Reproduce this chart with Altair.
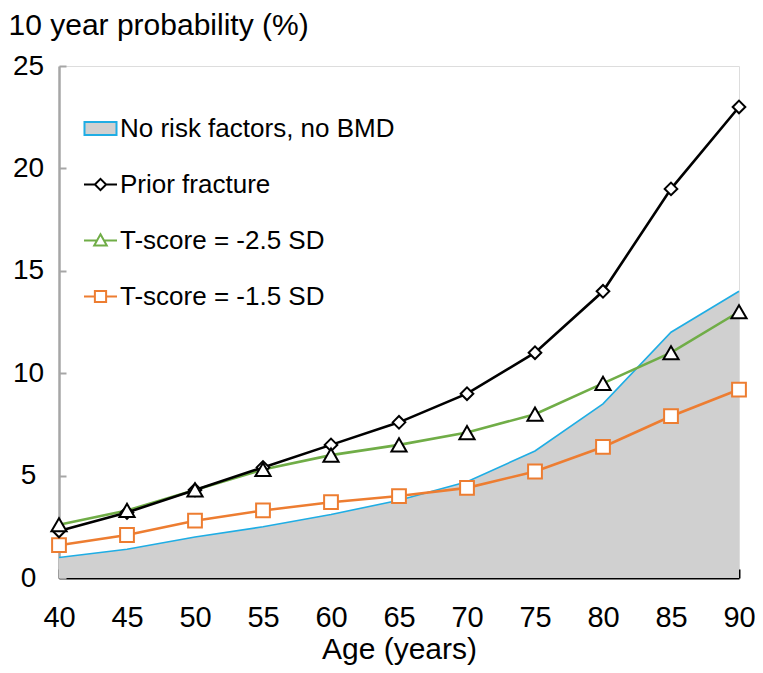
import altair as alt
import pandas as pd

# ---- data ----
ages = [40, 45, 50, 55, 60, 65, 70, 75, 80, 85, 90]
no_risk = [1.0, 1.4, 2.0, 2.5, 3.1, 3.8, 4.7, 6.2, 8.5, 12.0, 14.0]
prior_fracture = [2.3, 3.2, 4.3, 5.4, 6.5, 7.6, 9.0, 11.0, 14.0, 19.0, 23.0]
t_score_25 = [2.6, 3.3, 4.3, 5.3, 6.0, 6.5, 7.1, 8.0, 9.5, 11.0, 13.0]
t_score_15 = [1.6, 2.1, 2.8, 3.3, 3.7, 4.0, 4.4, 5.2, 6.4, 7.9, 9.2]

series_names = ["No risk factors, no BMD", "Prior fracture",
                "T-score = -2.5 SD", "T-score = -1.5 SD"]
x_ticks = [40, 45, 50, 55, 60, 65, 70, 75, 80, 85, 90]
y_ticks = [0, 5, 10, 15, 20, 25]

# ---- styles ----
FONT = "Liberation Sans"
C_FILL = "#d0d0d0"
C_BLUE = "#1fade4"
C_BLACK = "#000000"
C_GREEN = "#70ad47"
C_ORANGE = "#ed7d31"
C_AXIS_GRAY = "#a6a6a6"

rows = []
for name, vals in zip(series_names, [no_risk, prior_fracture, t_score_25, t_score_15]):
    for a, v in zip(ages, vals):
        rows.append({"age": a, "value": v, "series": name})
df = pd.DataFrame(rows)

x_enc = alt.X(
    "age:Q",
    scale=alt.Scale(domain=[40, 90], nice=False, zero=False),
    axis=alt.Axis(
        values=x_ticks, grid=False, title="Age (years)",
        labelFont=FONT, labelFontSize=29, labelColor="black", labelPadding=34,
        labelFlush=False,
        tickSize={"expr": "-9"}, tickColor="black", tickWidth=2,
        domainColor="black", domainWidth=2,
        titleFont=FONT, titleFontSize=30, titleFontWeight="normal", titleColor="black",
        titleY=80, titleBaseline="alphabetic",
    ),
)
y_enc = alt.Y(
    "value:Q",
    scale=alt.Scale(domain=[0, 25], nice=False),
    axis=alt.Axis(
        values=y_ticks, grid=False, title="10 year probability (%)",
        labelFont=FONT, labelFontSize=28, labelColor="black", labelAlign="center",
        labelBaseline="middle", labelPadding=38, labelFlush=False,
        tickSize={"expr": "-7"}, tickColor=C_AXIS_GRAY, tickWidth=2,
        domainColor=C_AXIS_GRAY, domainWidth=2.5,
        titleFont=FONT, titleFontSize=30, titleFontWeight="normal", titleColor="black",
        titleAngle=0, titleAlign="left", titleBaseline="alphabetic",
        titleX=-51, titleY=-32,
    ),
)

base = alt.Chart(df)


def only(name):
    return base.transform_filter(alt.datum.series == name)


area = only(series_names[0]).mark_area(color=C_FILL, opacity=1).encode(x=x_enc, y=y_enc)
blue_line = only(series_names[0]).mark_line(color=C_BLUE, strokeWidth=1.6).encode(x=x_enc, y=y_enc)
orange_line = only(series_names[3]).mark_line(color=C_ORANGE, strokeWidth=2.6).encode(x=x_enc, y=y_enc)
green_line = only(series_names[2]).mark_line(color=C_GREEN, strokeWidth=2.6).encode(x=x_enc, y=y_enc)
black_line = only(series_names[1]).mark_line(color=C_BLACK, strokeWidth=2.6).encode(x=x_enc, y=y_enc)

orange_pts = only(series_names[3]).mark_point(
    shape="square", size=190, filled=True, fill="white", stroke=C_ORANGE, strokeWidth=2, opacity=1
).encode(x=x_enc, y=y_enc)
black_pts = only(series_names[1]).mark_point(
    shape="diamond", size=160, filled=True, fill="white", stroke=C_BLACK, strokeWidth=2, opacity=1
).encode(x=x_enc, y=y_enc)
green_pts = only(series_names[2]).mark_point(
    shape="triangle-up", size=230, filled=True, fill="white", stroke=C_BLACK, strokeWidth=2, opacity=1
).encode(x=x_enc, y=y_enc)

# legend symbols (custom paths in the -1..1 box)
legend_paths = [
    "M-0.97,-0.4H0.97V0.4H-0.97Z",
    "M-1,0H-0.34M0.34,0H1M0,-0.34L0.34,0L0,0.34L-0.34,0Z",
    "M-1,0H-0.2M0.2,0H1M0,-0.38L0.38,0.3H-0.38Z",
    "M-1,0H-0.34M0.34,0H1M-0.34,-0.34H0.34V0.34H-0.34Z",
]
legend_layer = base.transform_filter("false").mark_point(
    filled=True, size=1089, strokeWidth=2, opacity=1
).encode(
    shape=alt.Shape(
        "series:N",
        scale=alt.Scale(domain=series_names, range=legend_paths),
        legend=alt.Legend(
            title=None, orient="none", legendX=24, legendY=45,
            symbolSize=1089, symbolStrokeWidth=2, symbolOpacity=1,
            labelFont=FONT, labelFontSize=26, labelColor="black",
            labelOffset=2, rowPadding=25, labelLimit=400,
        ),
    ),
    stroke=alt.Stroke("series:N", scale=alt.Scale(domain=series_names,
                                                   range=[C_BLUE, C_BLACK, C_GREEN, C_ORANGE])),
    fill=alt.Fill("series:N", scale=alt.Scale(domain=series_names,
                                               range=[C_FILL, "white", "white", "white"])),
)

chart = alt.layer(
    area, blue_line, orange_line, green_line, black_line,
    orange_pts, black_pts, green_pts, legend_layer,
).properties(
    width=680, height=512,
    padding={"left": 51, "top": 58, "right": 16, "bottom": 87},
    autosize="none",
).configure_view(
    stroke="black", strokeWidth=2
).configure(background="white")

chart.save("out.html", embed_options={"renderer": "svg", "actions": False})
